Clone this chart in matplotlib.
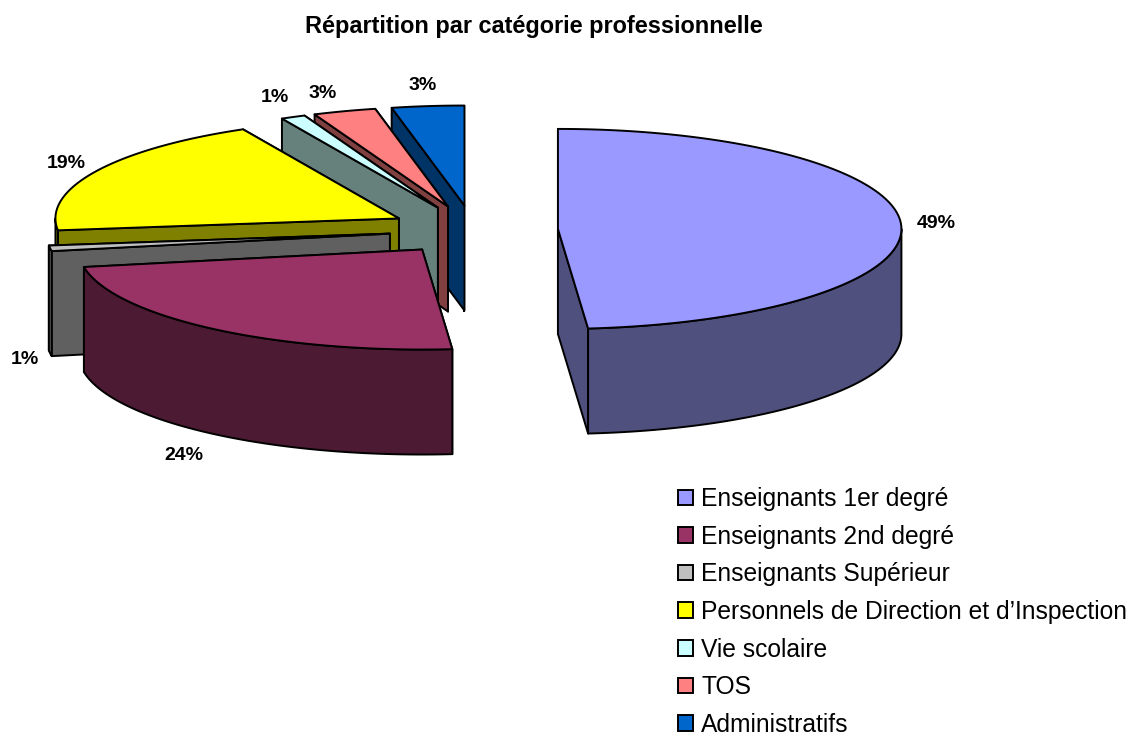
"""Exploded 3D pie: share of staff by professional category."""
import numpy as np
import matplotlib
matplotlib.use("Agg")
import matplotlib.pyplot as plt
from matplotlib.patches import Patch, Polygon

plt.rcParams["font.family"] = ["Liberation Sans", "DejaVu Sans"]

TITLE = "Répartition par catégorie professionnelle"
CATEGORIES = ["Enseignants 1er degré", "Enseignants 2nd degré", "Enseignants Supérieur",
              "Personnels de Direction et d’Inspection", "Vie scolaire", "TOS", "Administratifs"]
SHARES = [48.6, 23.6, 0.9, 19.4, 1.15, 2.95, 3.4]
TOP_COLORS = ["#9999ff", "#993366", "#c0c0c0", "#ffff00", "#ccffff", "#ff8080", "#0066cc"]
WALL_COLORS = ["#50507f", "#4d1a33", "#606060", "#808000", "#66807c", "#804040", "#003366"]
LABEL_XY = [(936, 223), (184, 455), (25, 359), (66, 163), (275, 97), (323, 94), (423, 86)]

# pie geometry in pixels
CX, CY, RX, RY = 473.5, 230, 343.5, 100
EXPLODE = 0.246
DEPTH = 105
LW = 1.4


def rim(theta, ox, oy):
    # theta is clockwise from 12 o'clock, in radians
    return ox + RX * np.sin(theta), oy - RY * np.cos(theta)


def draw_slice(ax, t0, t1, top, wall, z):
    mid = (t0 + t1) / 2
    ox = CX + EXPLODE * RX * np.sin(mid)
    oy = CY - EXPLODE * RY * np.cos(mid)
    kw = dict(edgecolor="black", lw=LW, joinstyle="round")

    # radial walls, the one facing away first
    for t in sorted([t0, t1], key=lambda a: -np.cos(a)):
        x, y = rim(t, ox, oy)
        ax.add_patch(Polygon([(ox, oy), (x, y), (x, y + DEPTH), (ox, oy + DEPTH)],
                             facecolor=wall, zorder=z, **kw))

    # outer wall, only the front half of the rim shows
    a0, a1 = max(t0, np.pi / 2), min(t1, 3 * np.pi / 2)
    if a1 > a0:
        th = np.linspace(a0, a1, 120)
        x, y = rim(th, ox, oy)
        pts = np.r_[np.c_[x, y], np.c_[x, y + DEPTH][::-1]]
        ax.add_patch(Polygon(pts, facecolor=wall, zorder=z, **kw))

    th = np.linspace(t0, t1, 120)
    x, y = rim(th, ox, oy)
    pts = np.r_[[(ox, oy)], np.c_[x, y]]
    ax.add_patch(Polygon(pts, facecolor=top, zorder=z, **kw))


fig = plt.figure(figsize=(11.37, 7.38), dpi=100)
ax = fig.add_axes([0, 0, 1, 1])
ax.set_xlim(0, 1137)
ax.set_ylim(738, 0)
ax.axis("off")

edges = np.r_[0, np.cumsum(SHARES)] / np.sum(SHARES) * 2 * np.pi
# back to front: last slice first
for i in range(len(SHARES) - 1, -1, -1):
    draw_slice(ax, edges[i], edges[i + 1], TOP_COLORS[i], WALL_COLORS[i], z=10 - i)

for val, (x, y) in zip(SHARES, LABEL_XY):
    label = f"{max(val, 1):.0f}%"
    ax.text(x, y, label, fontsize=14, fontweight="bold",
            ha="center", va="center", zorder=20)

ax.text(533.5, 27, TITLE, fontsize=16.9, fontweight="bold", ha="center", va="center")

handles = [Patch(facecolor=c, edgecolor="black", lw=LW) for c in TOP_COLORS]
ax.legend(handles, CATEGORIES, loc="upper left", bbox_to_anchor=(678 / 1137, 1 - 487 / 738),
          frameon=False, fontsize=17.7, handlelength=0.6, handleheight=0.6,
          handletextpad=0.34, labelspacing=0.555, borderaxespad=0, borderpad=0)

fig.savefig("out.png", dpi=100)
